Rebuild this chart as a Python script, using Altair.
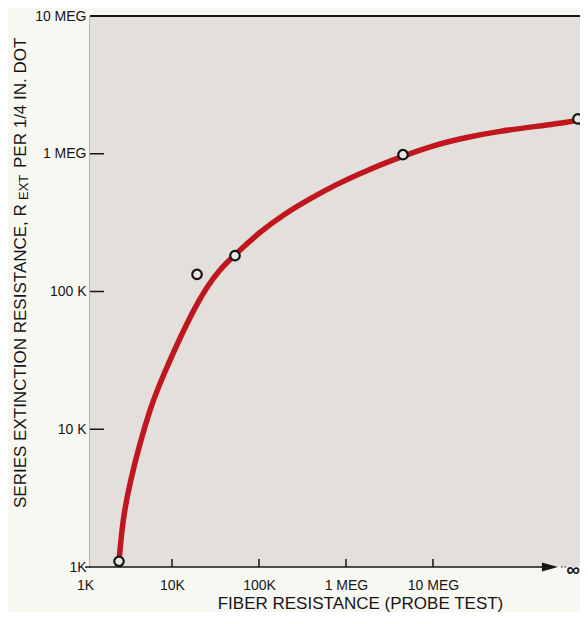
import altair as alt
import pandas as pd

# ---- data ----
# smooth curve (fiber resistance, series extinction resistance)
curve_fiber = [2.46e3, 2.73e3, 3.29e3, 4.29e3, 5.59e3, 7.28e3, 19.9e3, 35.6e3, 53.0e3,
               103e3, 189e3, 386e3, 789e3, 1.74e6, 4.52e6, 10.0e6, 24.6e6, 58.9e6,
               141e6, 398e6, 464e6]
curve_rext = [1.10e3, 2.27e3, 4.12e3, 8.0e3, 13.9e3, 22.1e3, 89.1e3, 146e3, 185e3,
              272e3, 360e3, 472e3, 603e3, 759e3, 962e3, 1.15e6, 1.32e6, 1.46e6,
              1.57e6, 1.71e6, 1.76e6]
# measured points (last one is "infinite" fiber resistance, drawn at the right edge)
INF_FIBER = 464e6
pt_fiber = [2.46e3, 19.4e3, 53.0e3, 4.52e6, INF_FIBER]
pt_rext = [1.1e3, 133e3, 182e3, 984e3, 1.79e6]

x_tick_values = [1e3, 1e4, 1e5, 1e6, 1e7]
x_tick_labels = ["1K", "10K", "100K", "1 MEG", "10 MEG"]
y_tick_values = [1e3, 1e4, 1e5, 1e6, 1e7]
y_tick_labels = ["1K", "10 K", "100 K", "1 MEG", "10 MEG"]
x_inner_ticks = [1e4, 1e5, 1e6, 1e7]
y_inner_ticks = [1e4, 1e5, 1e6, 1e7]

X_MIN, X_MAX = 1e3, 4.9e8
ARROW_END = 2.21e8
DOTS = [2.96e8, 3.38e8]
INF_LABEL_X = 4.06e8

# ---- style ----
W, H = 495, 551
FONT = "Liberation Sans"
INK = "#161616"
RED = "#c0161d"
PLOT_FILL = "#e3dfdb"
PAGE = "#f8f8f2"


def lbl_expr(vals, labels):
    return " : ".join(f"datum.value == {v} ? '{l}'" for v, l in zip(vals, labels)) + " : ''"


xs = alt.Scale(type="log", domain=[X_MIN, X_MAX], nice=False)
ys = alt.Scale(type="log", domain=[1e3, 1e7], nice=False)

xaxis = alt.Axis(values=x_tick_values, labelExpr=lbl_expr(x_tick_values, x_tick_labels),
                 ticks=False, domain=False, grid=False, labelFont=FONT, labelFontSize=14,
                 labelColor=INK, labelPadding=11, labelFlush=False, labelOverlap=False,
                 title="FIBER RESISTANCE (PROBE TEST)", titleFont=FONT, titleFontSize=17,
                 titleFontWeight="normal", titleColor=INK, titleX=275, titleY=41,
                 titleBaseline="alphabetic", titleAlign="center")
yaxis = alt.Axis(values=y_tick_values, labelExpr=lbl_expr(y_tick_values, y_tick_labels),
                 ticks=False, domain=True, domainColor=INK, domainWidth=1.6, offset=-5,
                 grid=False, labelFont=FONT, labelFontSize=14, labelColor=INK,
                 labelPadding=4, labelFlush=False, labelOverlap=False, title=None)


def X():
    return alt.X("fiber:Q", scale=xs, axis=xaxis)


def Y():
    return alt.Y("rext:Q", scale=ys, axis=yaxis)


one = pd.DataFrame({"k": [0]})
curve_df = pd.DataFrame({"fiber": curve_fiber, "rext": curve_rext, "i": range(len(curve_fiber))})
pts_df = pd.DataFrame({"fiber": pt_fiber, "rext": pt_rext})

bg = alt.Chart(one).mark_rect(color=PLOT_FILL).encode(
    x=alt.value(5), x2=alt.value(W), y=alt.value(0), y2=alt.value(H))

top_border = alt.Chart(one).mark_rule(color=INK, strokeWidth=2).encode(
    x=alt.value(5), x2=alt.value(W), y=alt.value(0))

yt = alt.Chart(pd.DataFrame({"rext": y_inner_ticks})).mark_rule(color=INK, strokeWidth=1.5).encode(
    y=Y(), x=alt.value(5), x2=alt.value(19))

xt = alt.Chart(pd.DataFrame({"fiber": x_inner_ticks})).mark_rule(color=INK, strokeWidth=1.5).encode(
    x=X(), y=alt.value(H - 8), y2=alt.value(H))

x_line = alt.Chart(pd.DataFrame({"fiber": [X_MIN], "f2": [ARROW_END], "rext": [1e3]})).mark_rule(
    color=INK, strokeWidth=1.6).encode(x=X(), x2="f2:Q", y=Y())

arrow = alt.Chart(pd.DataFrame({"fiber": [ARROW_END], "rext": [1e3]})).mark_point(
    shape="M-1,-0.55L1,0L-1,0.55Z", filled=True, color=INK, opacity=1, size=256).encode(x=X(), y=Y())

dots = alt.Chart(pd.DataFrame({"fiber": [DOTS[0]], "f2": [DOTS[1]], "rext": [1e3]})).mark_rule(
    color=INK, strokeWidth=1.2, strokeDash=[1.5, 2]).encode(x=X(), x2="f2:Q", y=Y())

inf_txt = alt.Chart(pd.DataFrame({"fiber": [INF_LABEL_X], "rext": [1e3], "t": ["∞"]})).mark_text(
    font=FONT, fontSize=19, fontWeight="bold", color=INK, baseline="middle", align="center", dy=3
).encode(x=X(), y=Y(), text="t:N")

curve = alt.Chart(curve_df).mark_line(color=RED, strokeWidth=5.5, interpolate="basis",
                                      strokeCap="round").encode(x=X(), y=Y(), order="i:Q")

pts = alt.Chart(pts_df).mark_point(shape="circle", size=90, filled=False, stroke=INK,
                                   strokeWidth=2.2, fill="#ece9e4", fillOpacity=1,
                                   opacity=1).encode(x=X(), y=Y())


# vertical (rotated) y title, with subscript "EXT"
def vtext(txt, x, y, size):
    return alt.Chart(pd.DataFrame({"t": [txt]})).mark_text(
        font=FONT, fontSize=size, color=INK, angle=270, align="left", baseline="alphabetic"
    ).encode(text="t:N", x=alt.value(x), y=alt.value(y))


title1 = vtext("SERIES EXTINCTION RESISTANCE, R", -59, 492, 17)
title2 = vtext("EXT", -57.5, 184, 13)
title3 = vtext("PER 1/4 IN. DOT", -59, 152, 17)

chart = alt.layer(
    bg, curve, top_border, yt, xt, x_line, arrow, dots, inf_txt, pts, title1, title2, title3
).properties(
    width=W, height=H,
    autosize=alt.AutoSizeParams(type="none"),
    padding={"left": 77, "top": 8, "right": 0, "bottom": 45},
    background=PAGE,
).configure_view(stroke=None)

chart.save("out.html", embed_options={"renderer": "svg", "actions": False})
